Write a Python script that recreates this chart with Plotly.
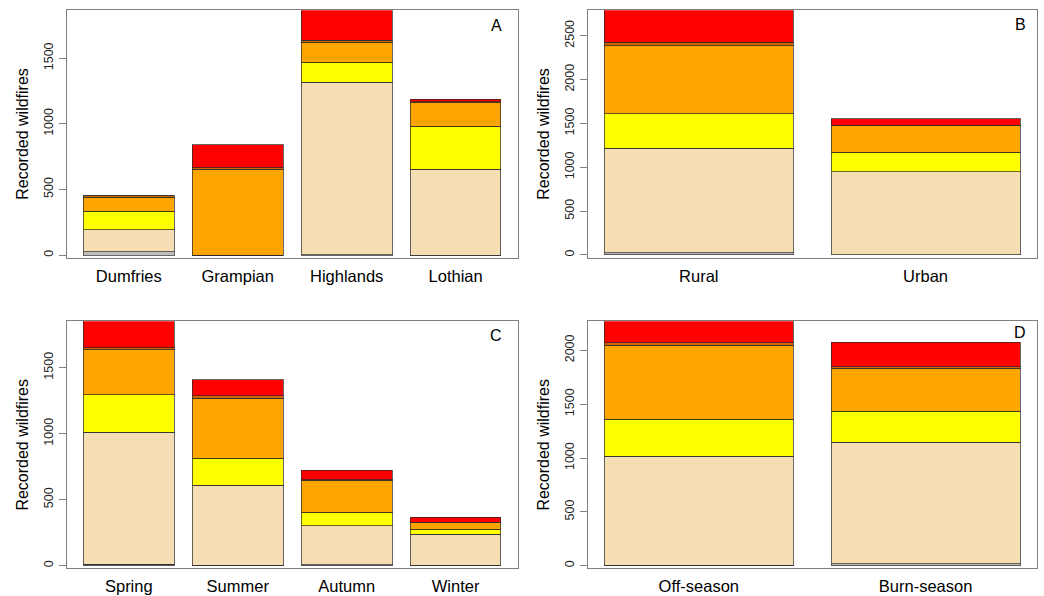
import plotly.graph_objects as go

# Recorded wildfires, stacked by fire-size class, in four groupings
size_classes = ["class_1", "class_2", "class_3", "class_4", "class_5", "class_6"]
class_colors = ["#BEBEBE", "#F5DEB3", "#FFFF00", "#FFA500", "#CD6600", "#FF0000"]

# A: region
regions = ["Dumfries", "Grampian", "Highlands", "Lothian"]
region_counts = [
    [25, 0, 3, 0],
    [168, 0, 1315, 653],
    [142, 0, 153, 328],
    [105, 655, 152, 180],
    [12, 10, 12, 9],
    [0, 176, 287, 17],
]

# B: setting
settings = ["Rural", "Urban"]
setting_counts = [
    [25, 4],
    [1191, 946],
    [395, 221],
    [776, 304],
    [38, 5],
    [409, 71],
]

# C: season
seasons = ["Spring", "Summer", "Autumn", "Winter"]
season_counts = [
    [10, 3, 6, 3],
    [1000, 606, 297, 235],
    [286, 204, 101, 38],
    [340, 455, 243, 50],
    [13, 18, 5, 4],
    [249, 123, 71, 37],
]

# D: muirburn season
burn_periods = ["Off-season", "Burn-season"]
burn_counts = [
    [6, 20],
    [1012, 1126],
    [341, 287],
    [687, 400],
    [25, 12],
    [251, 229],
]

panels = [
    dict(cats=regions, counts=region_counts, letter="A", yrange=[-20, 1865], ticks=[0, 500, 1000, 1500]),
    dict(cats=settings, counts=setting_counts, letter="B", yrange=[-31, 2790], ticks=[0, 500, 1000, 1500, 2000, 2500]),
    dict(cats=seasons, counts=season_counts, letter="C", yrange=[-20, 1851], ticks=[0, 500, 1000, 1500]),
    dict(cats=burn_periods, counts=burn_counts, letter="D", yrange=[-24, 2269], ticks=[0, 500, 1000, 1500, 2000]),
]

W, H = 1044, 596
# plot-region boxes in pixels: (left, right, top, bottom)
boxes = [
    (66.7, 517.7, 10.3, 257.7),
    (587.7, 1036.7, 10.3, 257.7),
    (66.7, 517.7, 321.3, 568.3),
    (587.7, 1036.7, 321.3, 568.3),
]
# panel-letter offsets from the box's top-right corner (dx, dy)
letter_offsets = [(21.7, 15), (16.7, 14), (21.7, 14), (16.7, 11)]

FONT = "Liberation Sans, Arial, sans-serif"
BOX = "#808080"
fig = go.Figure()
layout = {}
annotations = []

for i, (p, b, off) in enumerate(zip(panels, boxes, letter_offsets)):
    n = i + 1
    xa = "x" if n == 1 else f"x{n}"
    ya = "y" if n == 1 else f"y{n}"
    for name, color, vals in zip(size_classes, class_colors, p["counts"]):
        fig.add_trace(go.Bar(
            x=p["cats"], y=vals, name=name, width=1 / 1.2,
            marker=dict(color=color, line=dict(color="rgba(40,40,40,0.7)", width=1)),
            xaxis=xa, yaxis=ya, showlegend=False,
        ))
    k = len(p["cats"])
    # barplot spacing 0.2 with 4% axis padding, in category units
    span = 1.2 * k
    pad = 0.04 * (span - 0.2)
    lo = (0.2 - pad - 0.7) / 1.2
    hi = (span + pad - 0.7) / 1.2
    left, right, top, bottom = b
    layout["xaxis" if n == 1 else f"xaxis{n}"] = dict(
        domain=[left / W, right / W], anchor=ya, range=[lo, hi],
        showline=True, mirror=True, linecolor=BOX, linewidth=1,
        ticks="", showgrid=False, zeroline=False,
        tickfont=dict(family=FONT, size=16.5, color="black"),
        ticklabelstandoff=3,
    )
    layout["yaxis" if n == 1 else f"yaxis{n}"] = dict(
        domain=[1 - bottom / H, 1 - top / H], anchor=xa, range=p["yrange"],
        showline=True, mirror=True, linecolor=BOX, linewidth=1,
        ticks="outside", ticklen=7, tickcolor=BOX, tickwidth=1,
        tickvals=p["ticks"], tickangle=-90,
        tickfont=dict(family=FONT, size=12.5, color="#222222"),
        ticklabelstandoff=1,
        showgrid=False, zeroline=False,
        title=dict(text="Recorded wildfires", font=dict(family=FONT, size=16, color="black"), standoff=9),
    )
    annotations.append(dict(
        text=p["letter"], xref="paper", yref="paper",
        x=(right - off[0]) / W, y=1 - (top + off[1]) / H,
        xanchor="center", yanchor="middle", showarrow=False,
        font=dict(family=FONT, size=16, color="black"),
    ))

fig.update_layout(
    **layout,
    annotations=annotations,
    barmode="stack",
    width=W, height=H,
    margin=dict(l=0, r=0, t=0, b=0),
    paper_bgcolor="white", plot_bgcolor="white",
)

fig.write_html("out.html")
